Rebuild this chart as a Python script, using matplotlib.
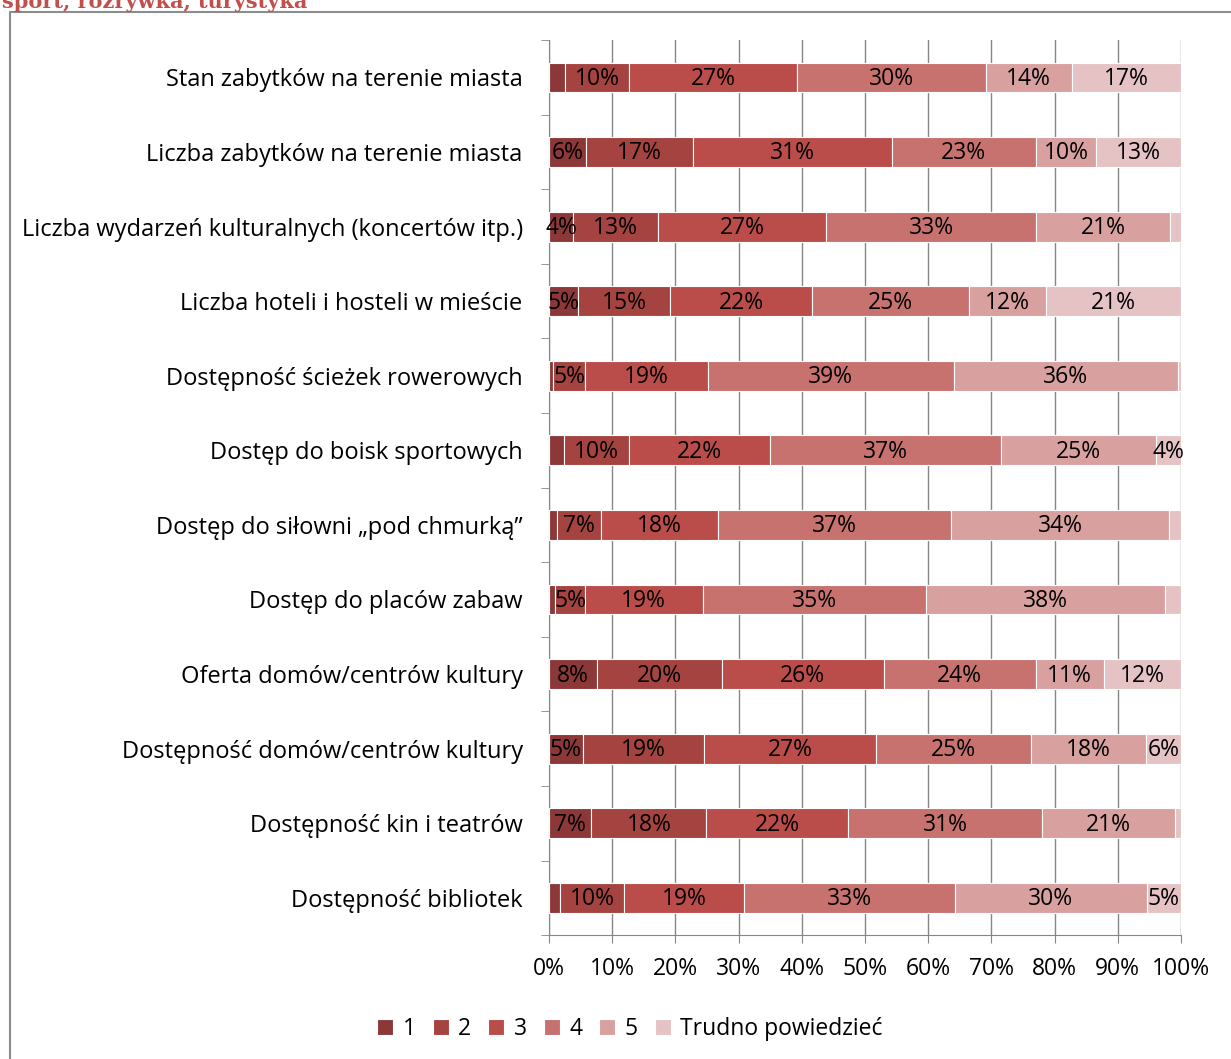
import matplotlib.pyplot as plt
import matplotlib.patches as mpatches
import numpy as np

plt.rcParams['font.family'] = ['Open Sans', 'DejaVu Sans']

categories = [
    'Stan zabytków na terenie miasta',
    'Liczba zabytków na terenie miasta',
    'Liczba wydarzeń kulturalnych (koncertów itp.)',
    'Liczba hoteli i hosteli w mieście',
    'Dostępność ścieżek rowerowych',
    'Dostęp do boisk sportowych',
    'Dostęp do siłowni „pod chmurką”',
    'Dostęp do placów zabaw',
    'Oferta domów/centrów kultury',
    'Dostępność domów/centrów kultury',
    'Dostępność kin i teatrów',
    'Dostępność bibliotek',
]
series_names = ['1', '2', '3', '4', '5', 'Trudno powiedzieć']

# values in %, per category, per series (1..5, Trudno powiedzieć)
s1 = [2.6, 5.9, 3.8, 4.6, 0.7, 2.4, 1.3, 1.0, 7.6, 5.3, 6.7, 1.8]
s2 = [10.1, 16.9, 13.4, 14.6, 5.0, 10.3, 7.0, 4.7, 19.7, 19.3, 18.2, 10.0]
s3 = [26.6, 31.4, 26.7, 22.4, 19.4, 22.2, 18.4, 18.6, 25.7, 27.1, 22.4, 19.1]
s4 = [29.8, 22.8, 33.2, 24.8, 38.9, 36.6, 36.9, 35.3, 24.0, 24.6, 30.7, 33.3]
s5 = [13.6, 9.6, 21.2, 12.2, 35.6, 24.6, 34.5, 37.8, 10.8, 18.1, 21.1, 30.4]
s_tp = [17.3, 13.4, 1.7, 21.4, 0.4, 3.9, 1.9, 2.6, 12.2, 5.6, 0.9, 5.4]

colors = ['#8C3838', '#A54340', '#BA4D49', '#C87270', '#D9A0A0', '#E5C3C4']

fig = plt.figure(figsize=(12.31, 10.59), dpi=100)
ax = fig.add_axes([0.446, 0.117, 0.5134, 0.8451])

# ramka wykresu i ucięty nagłówek
fig.patches.append(mpatches.Rectangle((10 / 1231, -0.01), 1.0, 1 - 12 / 1059 + 0.01,
                                      transform=fig.transFigure, fill=False,
                                      edgecolor='#8C8C8C', linewidth=1.5))
fig.text(2 / 1231, 1 - 8 / 1059, 'sport, rozrywka, turystyka', color='#C0504D',
         fontsize=15, fontweight='bold', family='DejaVu Serif', va='baseline')

data = np.array([s1, s2, s3, s4, s5, s_tp])
y = np.arange(len(categories))
left = np.zeros(len(categories))
for i, (vals, col) in enumerate(zip(data, colors)):
    ax.barh(y, vals, left=left, height=0.4, color=col, edgecolor='white',
            linewidth=0.8, label=series_names[i], zorder=3)
    for j, v in enumerate(vals):
        if v >= 3:
            ax.text(left[j] + v / 2, y[j] + 0.02, f'{round(v)}%', ha='center',
                    va='center', fontsize=16.5, color='black', zorder=4)
    left += vals

ax.set_ylim(len(categories) - 0.5, -0.5)
ax.set_xlim(0, 100)
ax.set_yticks(y)
ax.set_yticklabels(categories, fontsize=17)
ax.set_yticks(np.arange(-0.5, len(categories)), minor=True)
ax.tick_params(axis='y', which='major', length=0, pad=19)
ax.tick_params(axis='y', which='minor', length=6, color='#868686', direction='out')
ax.set_xticks(np.arange(0, 101, 10))
ax.set_xticklabels([f'{t}%' for t in range(0, 101, 10)], fontsize=16.5)
ax.tick_params(axis='x', length=6, color='#868686', pad=10)
ax.grid(True, axis='x', color='#868686', linewidth=1, zorder=0)
ax.set_axisbelow(True)
for side in ['top', 'right']:
    ax.spines[side].set_visible(False)
for side in ['left', 'bottom']:
    ax.spines[side].set_color('#868686')

ax.legend(loc='center', bbox_to_anchor=(0.128, -0.105), ncol=6,
          frameon=False, fontsize=16.5, handlelength=0.7, handleheight=0.7,
          handletextpad=0.4, columnspacing=0.75)

fig.savefig('out.png', dpi=100)
